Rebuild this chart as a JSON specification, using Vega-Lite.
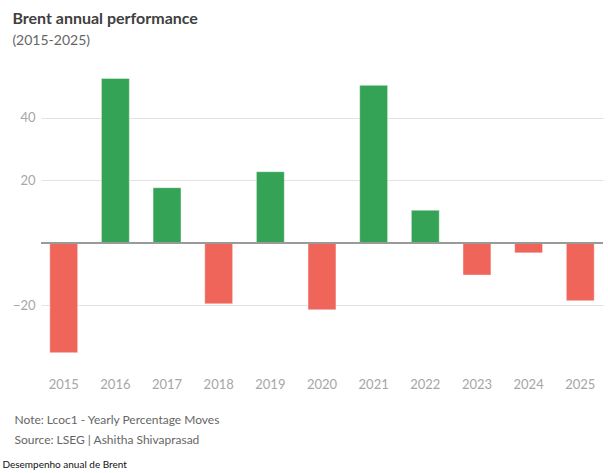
{
  "$schema": "https://vega.github.io/schema/vega-lite/v6.json",
  "padding": {"left": 2, "top": 10, "right": 5, "bottom": 2},
  "background": "white",
  "title": {"text": "Desempenho anual de Brent", "orient": "bottom", "anchor": "start", "frame": "bounds", "fontSize": 10, "fontWeight": "normal", "color": "#111", "font": "Lato", "dx": -10, "offset": 15},
  "config": {"view": {"stroke": null}, "font": "Lato"},
  "vconcat": [
    {
      "title": {"text": "Brent annual performance", "subtitle": "(2015-2025)", "anchor": "start", "frame": "bounds", "font": "Lato", "fontSize": 16, "fontWeight": "bold", "color": "#404040", "subtitleFont": "Lato", "subtitleFontSize": 14, "subtitleColor": "#666666", "subtitlePadding": 7, "offset": 7.5},
      "width": 562,
      "height": 313,
      "data": {"values": [
        {"year": "2015", "change": -35.1},
        {"year": "2016", "change": 52.5},
        {"year": "2017", "change": 17.6},
        {"year": "2018", "change": -19.5},
        {"year": "2019", "change": 22.7},
        {"year": "2020", "change": -21.4},
        {"year": "2021", "change": 50.3},
        {"year": "2022", "change": 10.4},
        {"year": "2023", "change": -10.3},
        {"year": "2024", "change": -3.2},
        {"year": "2025", "change": -18.5}
      ]},
      "layer": [
        {
          "mark": {"type": "bar", "stroke": "#ffffff", "strokeOpacity": 0.4, "strokeWidth": 1},
          "encoding": {
            "x": {"field": "year", "type": "ordinal", "sort": null,
              "scale": {"paddingInner": 0.46, "paddingOuter": 0.17},
              "axis": {"title": ["Note: Lcoc1 - Yearly Percentage Moves", "Source: LSEG | Ashitha Shivaprasad"],
                "labelAngle": 0, "domain": false, "ticks": false, "grid": false, "labelPadding": 10, "labelFontSize": 13, "labelColor": "#a6a6a6", "labelFont": "Lato",
                "titleAnchor": "start", "titleAlign": "left", "titleX": -27, "titleY": 46, "titleBaseline": "top", "titleFont": "Lato", "titleFontSize": 12, "titleFontWeight": "normal", "titleColor": "#666666", "titleLineHeight": 20}},
            "y": {"field": "change", "type": "quantitative", "scale": {"domain": [-40, 60]},
              "axis": {"values": [-20, 20, 40], "labelExpr": "replace(datum.label, '-', '\u2212')", "title": null, "domain": false, "ticks": false, "labelPadding": 6, "labelFontSize": 13, "labelColor": "#a6a6a6", "labelFont": "Lato", "gridColor": "#e2e2e2"}},
            "color": {"condition": {"test": "datum.change < 0", "value": "#ef6559"}, "value": "#34a355"}
          }
        },
        {
          "mark": {"type": "rule", "color": "#999999", "strokeWidth": 1},
          "encoding": {"y": {"datum": 0}}
        }
      ]
    }
  ]
}
